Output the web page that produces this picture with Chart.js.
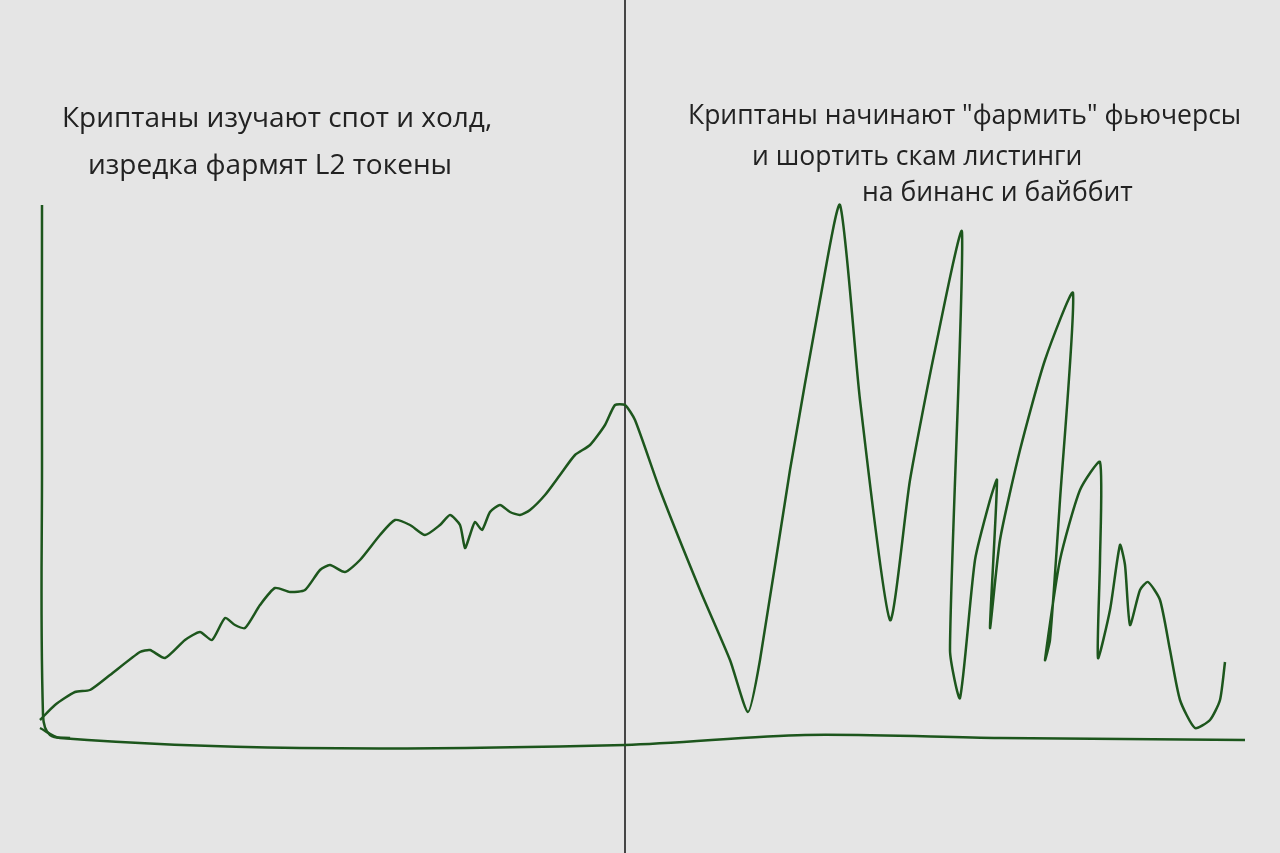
<!DOCTYPE html>
<html><head><meta charset="utf-8">
<script src="https://cdn.jsdelivr.net/npm/chart.js@4"></script>
<style>html,body{margin:0;padding:0;background:#e5e5e5}#w{width:1280px;height:853px}</style>
</head><body><div id="w"><canvas id="c"></canvas></div>
<script>
const curveX=[40,55,75,90,110,140,150,165,185,200,212,225,235,245,260,275,290,305,320,330,345,360,380,395,410,425,440,450,460,465,470,475,482,490,500,510,520,530,545,560,575,590,605,615,625,635,660,700,730,748,760,790,820,840,860,890,910,935,962,950,960,975,990,997,990,1000,1020,1045,1073,1060,1050,1045,1060,1080,1100,1100,1098,1110,1120,1125,1130,1140,1148,1160,1170,1180,1195,1210,1220,1225];
const curveY=[720,705,692,690,675,652,650,658,640,632,640,618,625,628,605,588,592,590,570,565,572,560,535,520,525,535,525,515,525,548,535,522,530,512,505,512,515,510,495,475,455,445,425,405,405,420,490,590,660,712,660,470,300,205,400,620,480,350,232,650,698,560,500,480,628,540,450,360,293,500,640,660,560,490,462,560,658,610,545,565,625,590,582,600,650,700,728,720,700,662];
const axisX=[42,42,43,50,70];
const axisY=[205,450,715,735,738];
const baseX=[40,60,300,625,805,1000,1245];
const baseY=[728,738,748,745,735,738,740];
const divX=[625,625];
const divY=[0,853];
const labels=[
 {t:'Криптаны изучают спот и холд,',x:62,y:127,s:28},
 {t:'изредка фармят L2 токены',x:88,y:174,s:28},
 {t:'Криптаны начинают "фармить" фьючерсы',x:688,y:124,s:26.5},
 {t:'и шортить скам листинги',x:752,y:165,s:26.5},
 {t:'на бинанс и байббит',x:862,y:201,s:26.5}
];
const pts=(xs,ys)=>xs.map((x,i)=>({x,y:ys[i]}));
const green='#1d561d';
new Chart(document.getElementById('c'),{
 type:'scatter',
 data:{datasets:[
  {data:pts(curveX,curveY),showLine:true,borderColor:green,borderWidth:2.5,pointRadius:0,tension:0.2},
  {data:pts(axisX,axisY),showLine:true,borderColor:green,borderWidth:2.5,pointRadius:0,tension:0.4},
  {data:pts(baseX,baseY),showLine:true,borderColor:green,borderWidth:2.5,pointRadius:0,tension:0.3},
  {data:pts(divX,divY),showLine:true,borderColor:'#111',borderWidth:1.5,pointRadius:0}
 ]},
 options:{responsive:true,maintainAspectRatio:false,animation:false,
  layout:{padding:0},
  plugins:{legend:{display:false},tooltip:{enabled:false}},
  scales:{x:{type:'linear',min:0,max:1280,display:false},y:{min:0,max:853,reverse:true,display:false}}
 },
 plugins:[{id:'txt',afterDraw(ch){const c=ch.ctx;c.save();c.fillStyle='#222';c.textBaseline='alphabetic';
  labels.forEach(l=>{c.font=l.s+'px "Open Sans", sans-serif';c.fillText(l.t,l.x,l.y);});c.restore();}}]
});
</script></body></html>
